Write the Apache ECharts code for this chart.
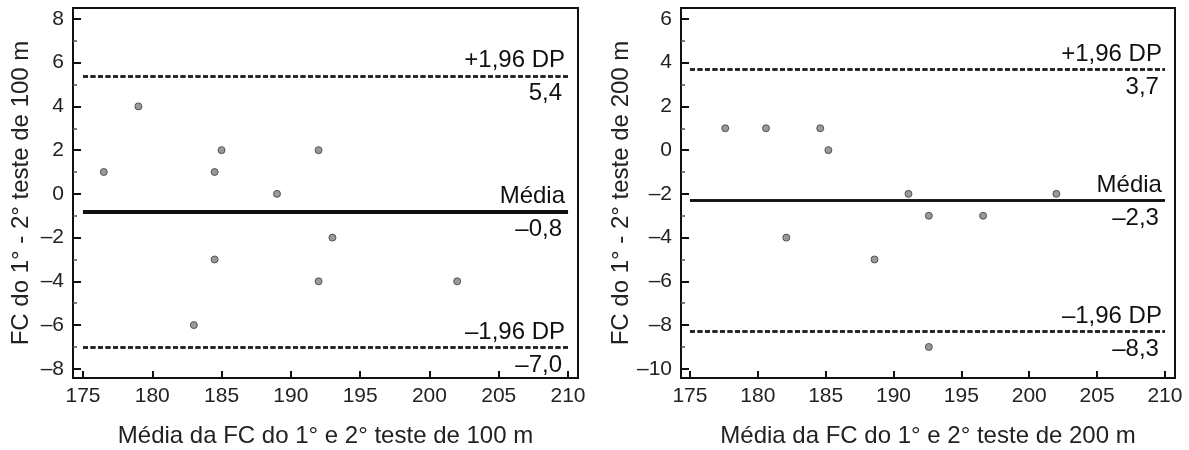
<!DOCTYPE html>
<html>
<head>
<meta charset="utf-8">
<script src="https://cdn.jsdelivr.net/npm/echarts@6/dist/echarts.min.js"></script>
<style>
  html, body { margin: 0; padding: 0; background: #fff; }
  #chart { width: 1189px; height: 450px; }
</style>
</head>
<body>
<div id="chart"></div>
<script>
// teste de 100 m
const x100 = [176.5, 179.0, 183.0, 184.5, 184.5, 185.0, 189.0, 192.0, 192.0, 193.0, 202.0];
const y100 = [1, 4, -6, 1, -3, 2, 0, 2, -4, -2, -4];
const limits100 = [5.4, -0.8, -7.0];
const limitValues100 = ['5,4', '–0,8', '–7,0'];

// teste de 200 m
const x200 = [177.6, 180.6, 182.1, 184.6, 185.2, 188.6, 191.1, 192.6, 192.6, 196.6, 202.0];
const y200 = [1, 1, -4, 1, 0, -5, -2, -3, -9, -3, -2];
const limits200 = [3.7, -2.3, -8.3];
const limitValues200 = ['3,7', '–2,3', '–8,3'];

const limitNames = ['+1,96 DP', 'Média', '–1,96 DP'];
const xTicks = [175, 180, 185, 190, 195, 200, 205, 210];
const yTicks100 = [-8, -6, -4, -2, 0, 2, 4, 6, 8];
const yMinor100 = [-7, -5, -3, -1, 1, 3, 5, 7];
const yTicks200 = [-10, -8, -6, -4, -2, 0, 2, 4, 6];
const yMinor200 = [-9, -7, -5, -3, -1, 1, 3, 5];
const lineFrom = 175, lineTo = 210;

const FONT = "'Liberation Sans', Arial, Helvetica, sans-serif";
const minus = v => (v < 0 ? '–' + Math.abs(v) : String(v));

function limitLines(limits, values, meanWidth) {
  let data = [];
  limits.forEach((v, i) => {
    let style = i === 1
      ? { type: 'solid', width: meanWidth, color: '#111' }
      : { type: [5, 2.5], width: 2.5, color: '#222' };
    data.push([
      { coord: [lineFrom, v], lineStyle: style,
        label: { show: true, position: 'insideEndTop', formatter: limitNames[i], distance: 3 } },
      { coord: [lineTo, v] }
    ]);
    data.push([
      { coord: [lineFrom, v], lineStyle: style,
        label: { show: true, position: 'insideEndBottom', formatter: values[i], distance: 6 } },
      { coord: [lineTo, v] }
    ]);
  });
  return data;
}

function xAxisFor(idx, min, max, name) {
  return {
    gridIndex: idx, type: 'value', position: 'bottom', min: min, max: max,
    name: name, nameLocation: 'middle', nameGap: 46,
    nameTextStyle: { fontSize: 24, color: '#222', fontFamily: FONT },
    axisLine: { show: true, onZero: false, lineStyle: { color: '#111', width: 2 } },
    axisTick: { show: true, inside: true, length: 7, customValues: xTicks, lineStyle: { color: '#111', width: 2 } },
    axisLabel: { customValues: xTicks, fontSize: 21, color: '#222', fontFamily: FONT, margin: 8 },
    splitLine: { show: false }
  };
}

function yAxisFor(idx, min, max, ticks, name) {
  return {
    gridIndex: idx, type: 'value', position: 'left', min: min, max: max,
    name: name, nameLocation: 'middle', nameGap: 40,
    nameTextStyle: { fontSize: 24, color: '#222', fontFamily: FONT },
    axisLine: { show: true, onZero: false, lineStyle: { color: '#111', width: 2 } },
    axisTick: { show: true, inside: true, length: 8, customValues: ticks, lineStyle: { color: '#111', width: 2 } },
    axisLabel: { customValues: ticks, fontSize: 21, color: '#222', fontFamily: FONT, margin: 9, formatter: minus },
    splitLine: { show: false }
  };
}

function yMinorFor(idx, min, max, ticks) {
  return {
    gridIndex: idx, type: 'value', position: 'left', min: min, max: max,
    axisLine: { show: false, onZero: false },
    axisTick: { show: true, inside: true, length: 4, customValues: ticks, lineStyle: { color: '#555', width: 1.5 } },
    axisLabel: { show: false },
    splitLine: { show: false }
  };
}

const dot = { color: '#7f7f7f', borderColor: '#3a3a3a', borderWidth: 1 };
const lineLabel = { fontSize: 24, color: '#111', fontFamily: FONT };

let chart = echarts.init(document.getElementById('chart'), null, { renderer: 'canvas' });
chart.setOption({
  animation: false,
  backgroundColor: '#fff',
  textStyle: { fontFamily: FONT },
  grid: [
    { left: 73, top: 8, width: 505, height: 370, show: true, borderColor: '#111', borderWidth: 2, outerBoundsMode: 'none' },
    { left: 681, top: 8, width: 494, height: 370, show: true, borderColor: '#111', borderWidth: 2, outerBoundsMode: 'none' }
  ],
  xAxis: [
    xAxisFor(0, 174.28, 210.72, 'Média da FC do 1° e 2° teste de 100 m'),
    xAxisFor(1, 174.34, 210.74, 'Média da FC do 1° e 2° teste de 200 m')
  ],
  yAxis: [
    yAxisFor(0, -8.42, 8.5, yTicks100, 'FC do 1° - 2° teste de 100 m'),
    yAxisFor(1, -10.42, 6.5, yTicks200, 'FC do 1° - 2° teste de 200 m'),
    yMinorFor(0, -8.42, 8.5, yMinor100),
    yMinorFor(1, -10.42, 6.5, yMinor200)
  ],
  series: [
    {
      type: 'scatter', xAxisIndex: 0, yAxisIndex: 0,
      data: x100.map((x, i) => [x, y100[i]]),
      symbolSize: 7, itemStyle: dot, z: 3,
      markLine: { silent: true, symbol: 'none', label: lineLabel, data: limitLines(limits100, limitValues100, 4) }
    },
    {
      type: 'scatter', xAxisIndex: 1, yAxisIndex: 1,
      data: x200.map((x, i) => [x, y200[i]]),
      symbolSize: 7, itemStyle: dot, z: 3,
      markLine: { silent: true, symbol: 'none', label: lineLabel, data: limitLines(limits200, limitValues200, 2.5) }
    }
  ]
});
</script>
</body>
</html>
